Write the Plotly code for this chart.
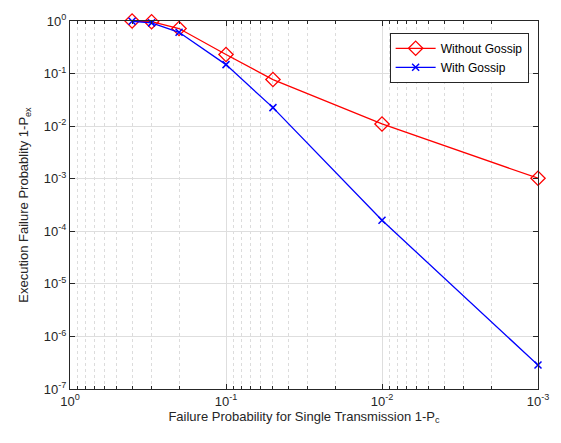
import plotly.graph_objects as go

x_vals = [0.4, 0.3, 0.2, 0.1, 0.05, 0.01, 0.001]
without_gossip = [1.0, 0.97, 0.72, 0.23, 0.077, 0.011, 0.00102]
with_gossip = [0.99, 0.92, 0.61, 0.148, 0.0225, 1.62e-4, 2.85e-7]

x_ticks = [1, 0.1, 0.01, 0.001]
x_ticktext = ["10<sup>0</sup>", "10<sup>-1</sup>", "10<sup>-2</sup>", "10<sup>-3</sup>"]
y_ticks = [1, 1e-1, 1e-2, 1e-3, 1e-4, 1e-5, 1e-6, 1e-7]
y_ticktext = ["10<sup>0</sup>", "10<sup>-1</sup>", "10<sup>-2</sup>", "10<sup>-3</sup>",
              "10<sup>-4</sup>", "10<sup>-5</sup>", "10<sup>-6</sup>", "10<sup>-7</sup>"]

FONT = "Liberation Sans, Arial, Helvetica"

fig = go.Figure()
fig.add_trace(go.Scatter(x=x_vals, y=without_gossip, mode="lines+markers", name="Without Gossip",
                         cliponaxis=False,
                         line=dict(color="#ff0000", width=1.3),
                         marker=dict(symbol="diamond-open", size=11, color="#ff0000", line=dict(width=1.3))))
fig.add_trace(go.Scatter(x=x_vals, y=with_gossip, mode="lines+markers", name="With Gossip",
                         cliponaxis=False,
                         line=dict(color="#0000ff", width=1.3),
                         marker=dict(symbol="x-thin-open", size=7, color="#0000ff", line=dict(width=1.5, color="#0000ff"))))

axis_common = dict(
    type="log", showline=True, linecolor="#262626", linewidth=1, mirror="ticks",
    ticks="inside", ticklen=5, tickcolor="#262626",
    showgrid=True, gridcolor="#dedede", gridwidth=1, zeroline=False,
    tickfont=dict(family=FONT, size=13, color="#262626"),
)

fig.update_xaxes(**axis_common, range=[0, -3], tickvals=x_ticks, ticktext=x_ticktext,
                 minor=dict(ticks="inside", ticklen=3, tickcolor="#262626", showgrid=True, dtick="D1",
                            gridcolor="#dcdcdc", griddash="dot", gridwidth=1),
                 title=dict(text="Failure Probability for Single Transmission 1-P<sub>c</sub>",
                            font=dict(family=FONT, size=13, color="#262626"), standoff=2))
fig.update_yaxes(**axis_common, range=[-7, 0], tickvals=y_ticks, ticktext=y_ticktext,
                 title=dict(text="Execution Failure Probablity 1-P<sub>ex</sub>",
                            font=dict(family=FONT, size=13, color="#262626"), standoff=12))

fig.update_layout(
    width=561, height=443,
    margin=dict(l=70, r=13, t=19, b=54),
    paper_bgcolor="white", plot_bgcolor="white",
    font=dict(family=FONT, size=13, color="#262626"),
    legend=dict(x=0.98, y=0.968, xanchor="right", yanchor="top",
                bgcolor="white", bordercolor="#262626", borderwidth=1,
                font=dict(size=12, color="#000000"), tracegroupgap=0, itemwidth=40),
    showlegend=True,
)

fig.write_html("out.html")
